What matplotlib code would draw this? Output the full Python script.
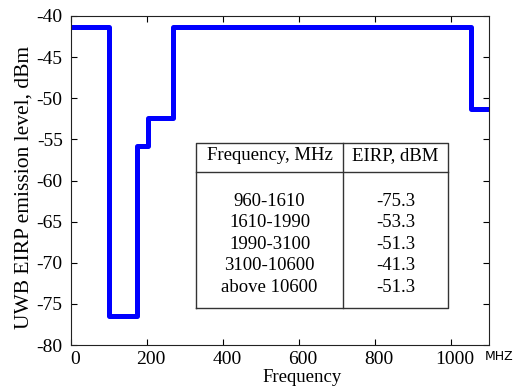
import numpy as np
import matplotlib.pyplot as plt
import matplotlib.transforms as mtransforms

plt.rcParams['font.family'] = 'Liberation Serif'
plt.rcParams['axes.unicode_minus'] = False

# step mask
freq_edges = [0, 100, 173, 203, 268, 1053, 1100]
levels = [-41.3, -76.5, -55.8, -52.4, -41.3, -51.3, -51.3]

table_freq = ["960-1610", "1610-1990", "1990-3100", "3100-10600", "above 10600"]
table_eirp = ["-75.3", "-53.3", "-51.3", "-41.3", "-51.3"]

fig = plt.figure(figsize=(5.15, 3.87), dpi=100)
ax = fig.add_axes([71 / 515, 1 - 345 / 387, 418 / 515, 329 / 387])

ax.step(freq_edges, levels, where="post", color="#0000ff", linewidth=3.6)
ax.set_xlim(0, 1100)
ax.set_ylim(-80, -40)
ax.set_xticks(np.arange(0, 1001, 200))
ax.set_yticks(np.arange(-80, -39, 5))
ax.tick_params(direction="in", top=True, right=True, labelsize=14, length=4)
ax.tick_params(axis="x", pad=4)
ax.tick_params(axis="y", pad=6)
for s in ax.spines.values():
    s.set_color("#222222")
    s.set_linewidth(0.8)

# x tick labels sit a little right of their ticks in the original
shift = mtransforms.ScaledTranslation(4 / 100, 0, fig.dpi_scale_trans)
for lab in ax.get_xticklabels():
    lab.set_transform(lab.get_transform() + shift)

ax.set_xlabel("Frequency", fontsize=13.5, va="center")
ax.xaxis.set_label_coords(0.553, -0.098)
ax.set_ylabel("UWB EIRP emission level, dBm", fontsize=15.5)
ax.yaxis.set_label_coords(-0.09, 0.48)
fig.text(485 / 515, 1 - 357 / 387, "MHZ", fontsize=9,
         family="DejaVu Sans", va="center", ha="left")

# table drawn in axes coordinates
x0, x1, xm = 0.299, 0.902, 0.651
y0, y1, yh = 0.112, 0.614, 0.526
kw = dict(transform=ax.transAxes, color="#333333", linewidth=1.0)
ax.plot([x0, x1, x1, x0, x0], [y0, y0, y1, y1, y0], **kw)
ax.plot([x0, x1], [yh, yh], **kw)
ax.plot([xm, xm], [y0, y1], **kw)
ax.text((x0 + xm) / 2, (yh + y1) / 2 + 0.005, "Frequency, MHz", transform=ax.transAxes,
        ha="center", va="center", fontsize=13.5)
ax.text((xm + x1) / 2, (yh + y1) / 2 + 0.005, "EIRP, dBM", transform=ax.transAxes,
        ha="center", va="center", fontsize=13.5)
row_y = 0.437 - np.arange(len(table_freq)) * 0.0655
for yy, f, e in zip(row_y, table_freq, table_eirp):
    ax.text((x0 + xm) / 2, yy, f, transform=ax.transAxes, ha="center", va="center", fontsize=13.5)
    ax.text((xm + x1) / 2, yy, e, transform=ax.transAxes, ha="center", va="center", fontsize=13.5)

fig.savefig("out.png", dpi=100)
